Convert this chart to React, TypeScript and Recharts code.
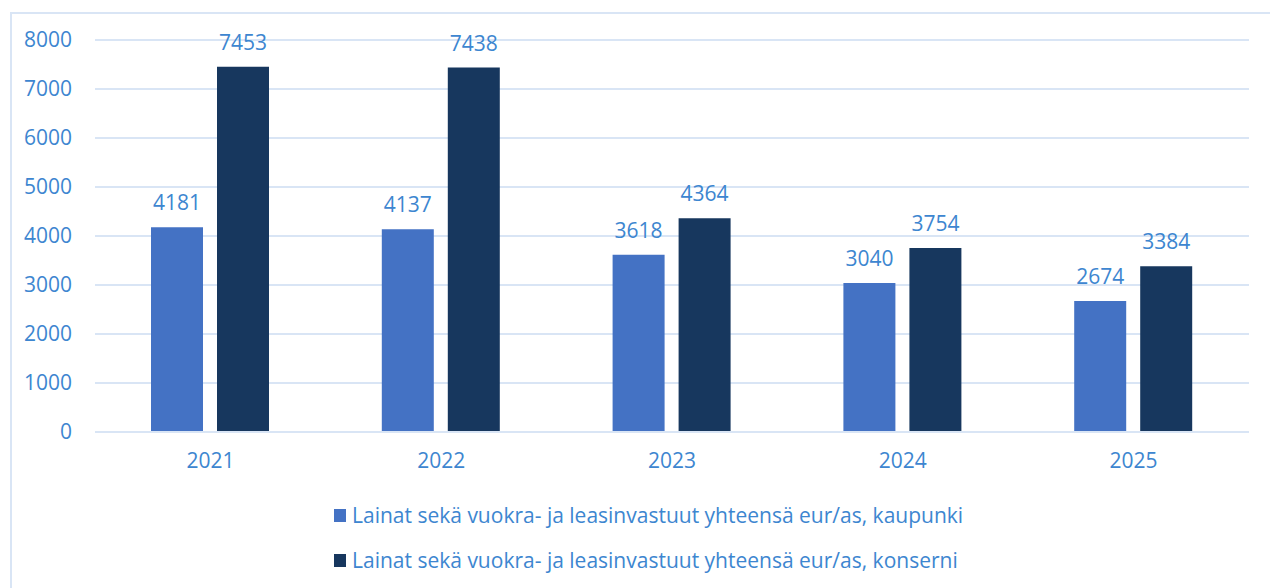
import { Bar, BarChart, XAxis, YAxis, CartesianGrid, LabelList } from 'recharts'

const years = ['2021', '2022', '2023', '2024', '2025']
const kaupunki = [4181, 4137, 3618, 3040, 2674]
const konserni = [7453, 7438, 4364, 3754, 3384]
const yTicks = [0, 1000, 2000, 3000, 4000, 5000, 6000, 7000, 8000]

const nameKaupunki = 'Lainat sekä vuokra- ja leasinvastuut yhteensä eur/as, kaupunki'
const nameKonserni = 'Lainat sekä vuokra- ja leasinvastuut yhteensä eur/as, konserni'

const lightBlue = '#4472C4'
const darkBlue = '#17375E'
const textBlue = '#3D86D0'
const gridBlue = '#D9E5F5'
const font = '"Open Sans", sans-serif'

const chartData = years.map((year, i) => ({
  year,
  kaupunki: kaupunki[i],
  konserni: konserni[i],
}))

const App = () => {
  return (
    <div style={{ position: 'absolute', left: 0, top: 0, width: 1270, height: 588, overflow: 'hidden', background: '#fff', fontFamily: font }}>
      <div style={{ position: 'absolute', left: 10, top: 12, width: 1300, height: 620, border: `2px solid ${gridBlue}` }} />
      <BarChart
        width={1270}
        height={588}
        data={chartData}
        margin={{ top: 40, right: 21, left: 0, bottom: 126 }}
        barGap={14}
        barSize={52}
      >
        <CartesianGrid vertical={false} stroke={gridBlue} strokeWidth={2} />
        <XAxis
          dataKey="year"
          axisLine={{ stroke: gridBlue, strokeWidth: 2 }}
          tickLine={false}
          tickSize={0}
          tickMargin={21}
          tick={{ fill: textBlue, fontSize: 21, fontFamily: font }}
        />
        <YAxis
          width={95}
          domain={[0, 8000]}
          ticks={yTicks}
          axisLine={false}
          tickLine={false}
          tickSize={0}
          tickMargin={23}
          tick={{ fill: textBlue, fontSize: 21, fontFamily: font }}
        />
        <Bar dataKey="kaupunki" fill={lightBlue} name={nameKaupunki} isAnimationActive={false}>
          <LabelList dataKey="kaupunki" position="top" offset={17} fill={textBlue} fontSize={21} fontFamily={font} />
        </Bar>
        <Bar dataKey="konserni" fill={darkBlue} name={nameKonserni} isAnimationActive={false}>
          <LabelList dataKey="konserni" position="top" offset={17} fill={textBlue} fontSize={21} fontFamily={font} />
        </Bar>
      </BarChart>
      {[
        { name: nameKaupunki, color: lightBlue, top: 502 },
        { name: nameKonserni, color: darkBlue, top: 547 },
      ].map((item) => (
        <div key={item.name} style={{ position: 'absolute', left: 334, top: item.top, display: 'flex', alignItems: 'center', height: 26 }}>
          <span style={{ width: 12, height: 13, background: item.color, display: 'inline-block', marginRight: 6 }} />
          <span style={{ color: textBlue, fontSize: 21, whiteSpace: 'nowrap' }}>{item.name}</span>
        </div>
      ))}
    </div>
  )
}

export default App
